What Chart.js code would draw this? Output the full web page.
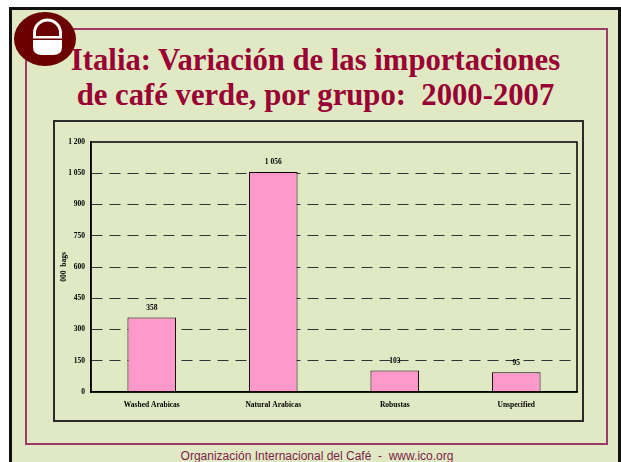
<!DOCTYPE html>
<html>
<head>
<meta charset="utf-8">
<script src="https://cdn.jsdelivr.net/npm/chart.js@4.4.1/dist/chart.umd.min.js"></script>
<style>
    html, body { margin: 0; padding: 0; background: #fff; }
    #page { position: relative; width: 621px; height: 462px; overflow: hidden; }
    .frame { position: absolute; box-sizing: border-box; }
    #outer { left: 9px; top: 7px; width: 612px; height: 470px; border: 3px solid #111; background: #E0E9C4; }
    #inner { left: 25px; top: 28px; width: 583px; height: 417px; border: 2px solid #9E3A6A; }
    #plotBox { left: 53px; top: 120px; width: 531px; height: 302px; border: 2px solid #2a2a2a; }
    #logo { position: absolute; left: 13px; top: 11px; }
    .title { position: absolute; left: 0; width: 631px; text-align: center;
        font-family: "Liberation Serif", serif; font-weight: bold; font-size: 30.7px;
        line-height: 34.5px; color: #990033; white-space: pre; }
    #footer { position: absolute; left: 0; width: 634px; top: 448px; text-align: center;
        font-family: "Liberation Sans", Arial, sans-serif; font-size: 12px; line-height: 16px;
        color: #7E1E48; white-space: pre; }
    #chartWrap { position: absolute; left: 0; top: 0; width: 621px; height: 462px; }
</style>
</head>
<body>
<div id="page">
    <div class="frame" id="outer"></div>
    <div class="frame" id="inner"></div>
    <div class="frame" id="plotBox"></div>
    <svg id="logo" width="66" height="58" viewBox="0 0 66 58">
        <ellipse cx="32" cy="28" rx="31" ry="27" fill="#6B0000"/>
        <path d="M21.5 26 L21.5 22 A13 13 0 0 1 47.5 22 L47.5 26" fill="none" stroke="#fff" stroke-width="3"/>
        <rect x="20" y="25" width="29" height="2.5" fill="#fff"/>
        <path d="M20 29 L49 29 L49 36 Q49 44 40 44 L29 44 Q20 44 20 36 Z" fill="#fff"/>
    </svg>
    <div class="title" style="top:43px">Italia: Variación de las importaciones</div>
    <div class="title" style="top:77.5px">de café verde, por grupo:  2000-2007</div>
    <div id="footer">Organización Internacional del Café  -  www.ico.org</div>
    <div id="chartWrap"><canvas id="importChart"></canvas></div>
</div>

<script>
// Data
const groups = ['Washed Arabicas', 'Natural Arabicas', 'Robustas', 'Unspecified'];
const importVariation = [358, 1056, 103, 95];
const yTicks = [0, 150, 300, 450, 600, 750, 900, 1050, 1200];

const serif = '"Liberation Serif", "Times New Roman", serif';

// number with space as thousands separator, like "1 050"
function fmt(v) {
    return String(v).replace(/\B(?=(\d{3})+(?!\d))/g, ' ');
}

// frame around the plot area (top + right sides)
const plotFrame = {
    id: 'plotFrame',
    afterDatasetsDraw(chart) {
        const { ctx, chartArea: a } = chart;
        ctx.save();
        ctx.strokeStyle = '#000';
        ctx.lineWidth = 1.5;
        ctx.strokeRect(a.left, a.top, a.right - a.left, a.bottom - a.top);
        ctx.restore();
    }
};

// value labels above the bars
const barLabels = {
    id: 'barLabels',
    afterDatasetsDraw(chart) {
        const { ctx } = chart;
        const meta = chart.getDatasetMeta(0);
        ctx.save();
        ctx.font = 'bold 7.5px ' + serif;
        ctx.fillStyle = '#000';
        ctx.textAlign = 'center';
        ctx.textBaseline = 'middle';
        meta.data.forEach((bar, i) => {
            ctx.fillText(fmt(chart.data.datasets[0].data[i]), bar.x, bar.y - 9.5);
        });
        ctx.restore();
    }
};

const ctx = document.getElementById('importChart').getContext('2d');
new Chart(ctx, {
    type: 'bar',
    data: {
        labels: groups,
        datasets: [{
            data: importVariation,
            backgroundColor: '#FF99CC',
            borderColor: '#000',
            borderWidth: 1,
            categoryPercentage: 1,
            barPercentage: 0.4
        }]
    },
    options: {
        responsive: true,
        maintainAspectRatio: false,
        animation: false,
        layout: { padding: { left: 55, right: 44, top: 142, bottom: 40 } },
        plugins: {
            legend: { display: false },
            tooltip: { enabled: false }
        },
        scales: {
            x: {
                grid: { display: false, drawTicks: false },
                border: { color: '#000', width: 1.5 },
                ticks: {
                    padding: 9,
                    color: '#000',
                    font: { family: serif, size: 7.5, weight: 'bold' }
                },
                afterFit(scale) { scale.height = 30; }
            },
            y: {
                min: 0,
                max: 1200,
                afterBuildTicks(scale) {
                    scale.ticks = yTicks.map(v => ({ value: v }));
                },
                grid: {
                    drawTicks: false,
                    color: c => (c.tick && (c.tick.value === 0 || c.tick.value === 1200)) ? 'rgba(0,0,0,0)' : '#333',
                    lineWidth: 1
                },
                border: { color: '#000', width: 1.5, dash: [11, 7] },
                ticks: {
                    padding: 6,
                    color: '#000',
                    font: { family: serif, size: 7.5, weight: 'bold' },
                    callback: v => fmt(v)
                },
                title: {
                    display: true,
                    text: '000  bags',
                    color: '#000',
                    padding: { top: 5, bottom: 0 },
                    font: { family: serif, size: 7.5, weight: 'bold' }
                },
                afterFit(scale) { scale.width = 36; }
            }
        }
    },
    plugins: [plotFrame, barLabels]
});
</script>
</body>
</html>
